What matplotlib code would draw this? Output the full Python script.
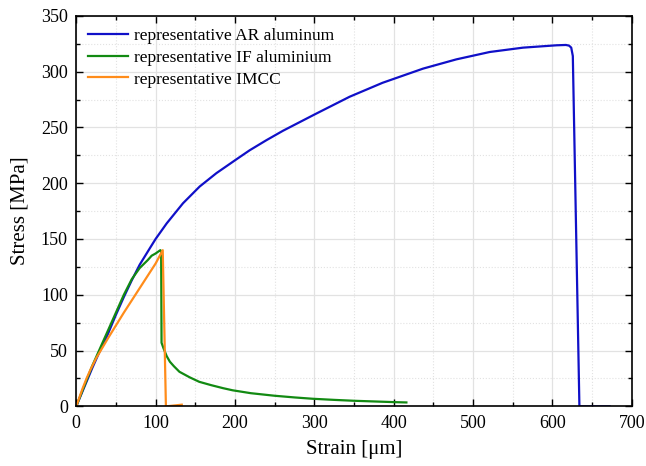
import matplotlib
matplotlib.use("Agg")
import matplotlib.pyplot as plt
from matplotlib.ticker import MultipleLocator

plt.rcParams["font.family"] = ["Liberation Serif", "DejaVu Serif"]

# strain [um] / stress [MPa]
ar_strain = [0, 10, 20, 30, 40, 50, 60, 70, 80, 93, 100, 114, 134.5, 155.5,
             176.6, 201, 218.5, 239.5, 260.5, 300, 344.5, 386, 437, 479,
             521, 563, 605, 617, 621, 623.7, 625.7, 634, 672]
ar_stress = [0, 17, 34, 50, 65, 82, 98, 113, 127, 142, 150, 164, 182, 197,
             209, 221, 229.5, 238.5, 247, 261.5, 277.5, 290, 302.7, 311,
             317.6, 321.5, 323.6, 323.9, 323.3, 321.5, 314, 0, 0]

if_strain = [0, 10, 20, 30, 40, 50, 60, 70, 80, 90, 95, 100, 103, 106,
             107, 107.5, 110, 114, 118, 123, 130, 143, 155, 170, 185, 197,
             220, 250, 275, 298, 325, 350, 375, 400, 416]
if_stress = [0, 18, 36, 52, 68, 84, 100, 114, 124, 131, 135, 137, 138.5, 140,
             139, 57, 52, 45, 40, 36, 31, 26, 22, 19, 16.3, 14.4,
             11.8, 9.5, 8, 6.8, 5.8, 5, 4.4, 3.8, 3.5]

imcc_strain = [0, 4, 8, 13, 18, 25, 40, 60, 80, 100, 109, 113, 120, 133]
imcc_stress = [0, 8, 16, 25, 33, 43, 61, 84, 106, 128, 140, 0, 0.5, 1.5]

fig = plt.figure(figsize=(6.46, 4.66), dpi=100)
ax = fig.add_axes([0.118, 0.128, 0.86, 0.838])

ax.plot(ar_strain, ar_stress, color="#1010c8", lw=1.6,
        label="representative AR aluminum")
ax.plot(if_strain, if_stress, color="#128a12", lw=1.6,
        label="representative IF aluminium")
ax.plot(imcc_strain, imcc_stress, color="#ff8c1a", lw=1.6,
        label="representative IMCC")

ax.set_xlim(0, 700)
ax.set_ylim(0, 350)
ax.xaxis.set_major_locator(MultipleLocator(100))
ax.xaxis.set_minor_locator(MultipleLocator(50))
ax.yaxis.set_major_locator(MultipleLocator(50))
ax.yaxis.set_minor_locator(MultipleLocator(25))

ax.grid(which="major", color="#e2e2e2", lw=0.9, ls="-")
ax.grid(which="minor", color="#e2e2e2", lw=0.8, ls=":")
ax.set_axisbelow(True)

ax.tick_params(which="both", direction="in", top=True, right=True,
               labelsize=13, width=1)
ax.tick_params(which="major", length=5, pad=6)
ax.tick_params(which="minor", length=3)
for s in ax.spines.values():
    s.set_linewidth(1.2)

ax.set_xlabel("Strain [μm]", fontsize=15, labelpad=6)
ax.set_ylabel("Stress [MPa]", fontsize=15, labelpad=8)

ax.legend(loc="upper left", frameon=False, fontsize=12.5, handlelength=2.3,
          labelspacing=0.32, handletextpad=0.3, borderaxespad=0.3)

fig.savefig("out.png", dpi=100)
